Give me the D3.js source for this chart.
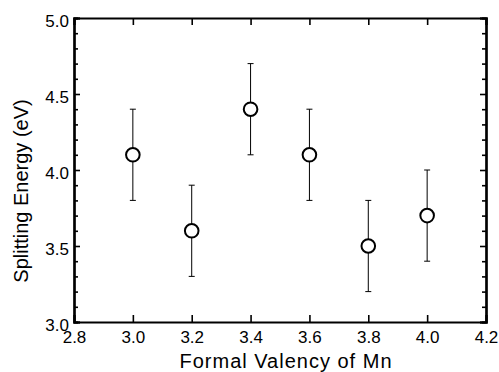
<!DOCTYPE html>
<html>
<head>
<meta charset="utf-8">
<script src="https://cdn.jsdelivr.net/npm/d3@7"></script>
<style>
  body { margin: 0; background: #fff; }
  svg text { font-family: "Liberation Sans", Arial, sans-serif; fill: #000; }
</style>
</head>
<body>
<svg></svg>
<script>
let valency = [3.0, 3.2, 3.4, 3.6, 3.8, 4.0]
let energy = [4.1, 3.6, 4.4, 4.1, 3.5, 3.7]
let errors = [0.3, 0.3, 0.3, 0.3, 0.3, 0.3]
let xTicks = [2.8, 3.0, 3.2, 3.4, 3.6, 3.8, 4.0, 4.2]
let yTicks = [3.0, 3.5, 4.0, 4.5, 5.0]
let yMinor = [3.1, 3.2, 3.3, 3.4, 3.6, 3.7, 3.8, 3.9, 4.1, 4.2, 4.3, 4.4, 4.6, 4.7, 4.8, 4.9]

let width = 499
let height = 372
let padLeft = 74, padRight = 486, padTop = 18, padBottom = 322

let svg = d3.select('svg').attr('width', width).attr('height', height)

let xScale = d3.scaleLinear().domain([2.8, 4.2]).range([padLeft, padRight])
let yScale = d3.scaleLinear().domain([3.0, 5.0]).range([padBottom, padTop])

// axes: inward ticks on all four sides
let xBottom = d3.axisBottom(xScale).tickValues(xTicks).tickSize(-7).tickPadding(8.5).tickFormat(d3.format('.1f'))
let xTop = d3.axisTop(xScale).tickValues(xTicks).tickSize(-7).tickFormat('')
let yLeft = d3.axisLeft(yScale).tickValues(yTicks).tickSize(-6).tickPadding(5).tickFormat(d3.format('.1f'))
let yRight = d3.axisRight(yScale).tickValues(yTicks).tickSize(-6).tickFormat('')
let yLeftMinor = d3.axisLeft(yScale).tickValues(yMinor).tickSize(-4).tickFormat('')
let yRightMinor = d3.axisRight(yScale).tickValues(yMinor).tickSize(-4).tickFormat('')

let addAxis = (axis, tx, ty) => {
    let g = svg.append('g').attr('transform', 'translate(' + tx + ',' + ty + ')').call(axis)
    g.select('.domain').attr('stroke', '#000').attr('stroke-width', 2.2)
    g.selectAll('.tick line').attr('stroke', '#000').attr('stroke-width', 1.6)
    g.selectAll('.tick text').style('font-size', '17px').style('font-family', '"Liberation Sans", Arial, sans-serif')
    return g
}
addAxis(xBottom, 0, padBottom)
addAxis(xTop, 0, padTop)
addAxis(yLeftMinor, padLeft, 0)
addAxis(yRightMinor, padRight, 0)
addAxis(yLeft, padLeft, 0).selectAll('.tick text').attr('dy', '0.48em')
addAxis(yRight, padRight, 0)

// error bars
let bars = svg.append('g')
valency.forEach((v, i) => {
    let x = xScale(v)
    let y1 = yScale(energy[i] + errors[i])
    let y2 = yScale(energy[i] - errors[i])
    bars.append('line').attr('x1', x).attr('x2', x).attr('y1', y1).attr('y2', y2)
        .attr('stroke', '#000').attr('stroke-width', 1)
    bars.append('line').attr('x1', x - 3).attr('x2', x + 3).attr('y1', y1).attr('y2', y1)
        .attr('stroke', '#000').attr('stroke-width', 1)
    bars.append('line').attr('x1', x - 3).attr('x2', x + 3).attr('y1', y2).attr('y2', y2)
        .attr('stroke', '#000').attr('stroke-width', 1)
})

// markers
svg.append('g').selectAll('circle')
    .data(valency)
    .enter()
    .append('circle')
    .attr('cx', (d) => xScale(d))
    .attr('cy', (d, i) => yScale(energy[i]))
    .attr('r', 6.8)
    .attr('fill', '#fff')
    .attr('stroke', '#000')
    .attr('stroke-width', 2)

// titles
svg.append('text')
    .attr('x', 286)
    .attr('y', 368)
    .attr('text-anchor', 'middle')
    .style('font-size', '20px')
    .style('letter-spacing', '1px')
    .text('Formal Valency of Mn')

svg.append('text')
    .attr('transform', 'translate(28,191) rotate(-90)')
    .attr('text-anchor', 'middle')
    .style('font-size', '20px')
    .text('Splitting Energy (eV)')
</script>
</body>
</html>
